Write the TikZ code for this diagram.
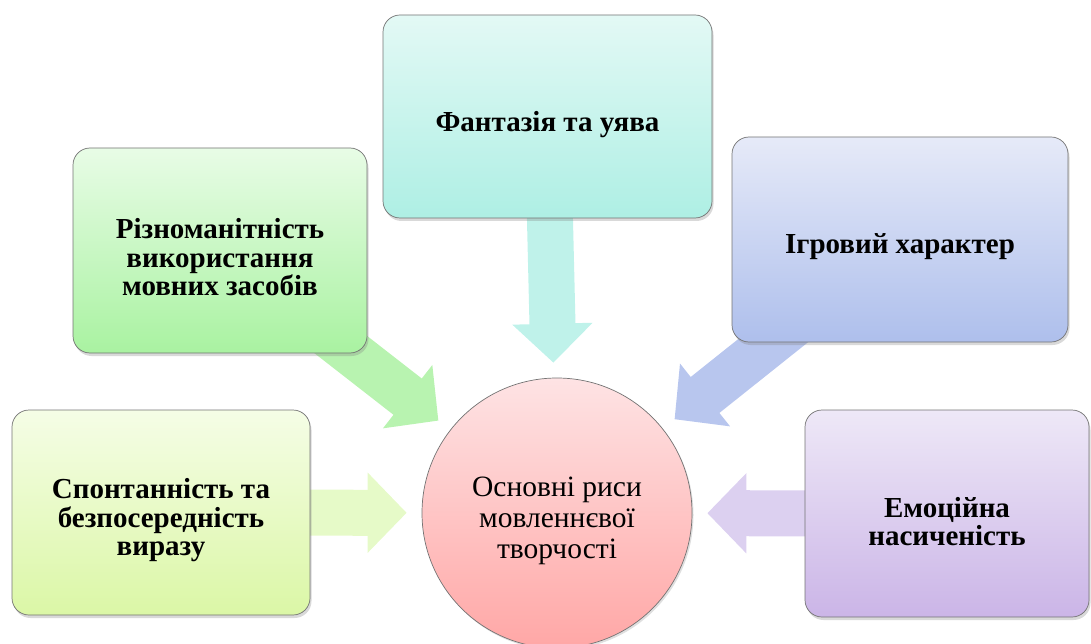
\documentclass[tikz,border=0pt]{standalone}
\usepackage{fontspec}
\setmainfont{Liberation Serif}[BoldFont={Liberation Serif Bold}]
\usepackage{tikz}
\usetikzlibrary{backgrounds,shadows,arrows.meta}

\definecolor{fanttop}{HTML}{E3F9F5}
\definecolor{fantbot}{HTML}{AEEFE4}
\definecolor{fantarrow}{HTML}{BFF2EA}
\definecolor{riztop}{HTML}{E8FCE6}
\definecolor{rizbot}{HTML}{A9F2A1}
\definecolor{rizarrow}{HTML}{B8F3B0}
\definecolor{spontop}{HTML}{F5FDE6}
\definecolor{sponbot}{HTML}{DBF7A6}
\definecolor{sponarrow}{HTML}{E6FAC8}
\definecolor{igrtop}{HTML}{E6EAF8}
\definecolor{igrbot}{HTML}{AEBFEC}
\definecolor{igrarrow}{HTML}{B8C6EE}
\definecolor{emotop}{HTML}{EEE8F7}
\definecolor{emobot}{HTML}{CBB5E7}
\definecolor{emoarrow}{HTML}{DCD0F0}
\definecolor{coretop}{HTML}{FEE3E4}
\definecolor{corebot}{HTML}{FFA7A6}

\begin{document}
\begin{tikzpicture}[x=1pt, y=-1pt,
	feature/.style={draw=black!55, line width=0.7pt, rounded corners=17pt,
		drop shadow={opacity=0.3, shadow xshift=1.5pt, shadow yshift=-3pt}},
	featuretext/.style={align=center, inner sep=0pt, font=\fontsize{29}{28.5}\selectfont\bfseries},
	core/.style={circle, draw=black!55, line width=0.7pt, minimum size=270pt,
		top color=coretop, bottom color=corebot,
		drop shadow={opacity=0.25, shadow xshift=1.5pt, shadow yshift=-2pt}},
	coretext/.style={align=center, inner sep=0pt, font=\fontsize{29.5}{31}\selectfont},
	feed/.style={line width=46pt, -{Triangle[width=78pt,length=39pt]}, shorten >=15pt}]

	\useasboundingbox (0,0) rectangle (1091,644);

	\node[core] (core) at (557,513) {};
	\node[coretext] (core text) at ([yshift=-8pt]core.center) {Основні риси\\мовленнєвої\\творчості};

	\node[feature, minimum width=329pt, minimum height=203pt, top color=fanttop, bottom color=fantbot] (fant) at (547.5,116.5) {};
	\node[feature, minimum width=294pt, minimum height=205pt, top color=riztop, bottom color=rizbot] (riz) at (220,250.5) {};
	\node[feature, minimum width=298pt, minimum height=205pt, top color=spontop, bottom color=sponbot] (spon) at (161,512.5) {};
	\node[feature, minimum width=336pt, minimum height=205pt, top color=igrtop, bottom color=igrbot] (igr) at (900,239.5) {};
	\node[feature, minimum width=284pt, minimum height=207pt, top color=emotop, bottom color=emobot] (emo) at (947,513.5) {};

	\node[featuretext] (fant text) at ([yshift=-8pt]fant.center) {Фантазія та уява};
	\node[featuretext] (riz text) at ([yshift=-7pt]riz.center) {Різноманітність\\використання\\мовних засобів};
	\node[featuretext] (spon text) at ([yshift=-8pt]spon.center) {Спонтанність та\\безпосередність\\виразу};
	\node[featuretext] (igr text) at ([yshift=-7pt]igr.center) {Ігровий характер};
	\node[featuretext] (emo text) at ([yshift=-8pt]emo.center) {Емоційна\\насиченість};

	% block arrows behind the boxes
	\begin{scope}[on background layer]
		\draw[feed, fantarrow] (fant.center) -- (core);
		\draw[feed, rizarrow] (riz.center) -- (core);
		\draw[feed, sponarrow] (spon.center) -- (core);
		\draw[feed, igrarrow] (igr.center) -- (core);
		\draw[feed, emoarrow] (emo.center) -- (core);
	\end{scope}

\end{tikzpicture}
\end{document}
